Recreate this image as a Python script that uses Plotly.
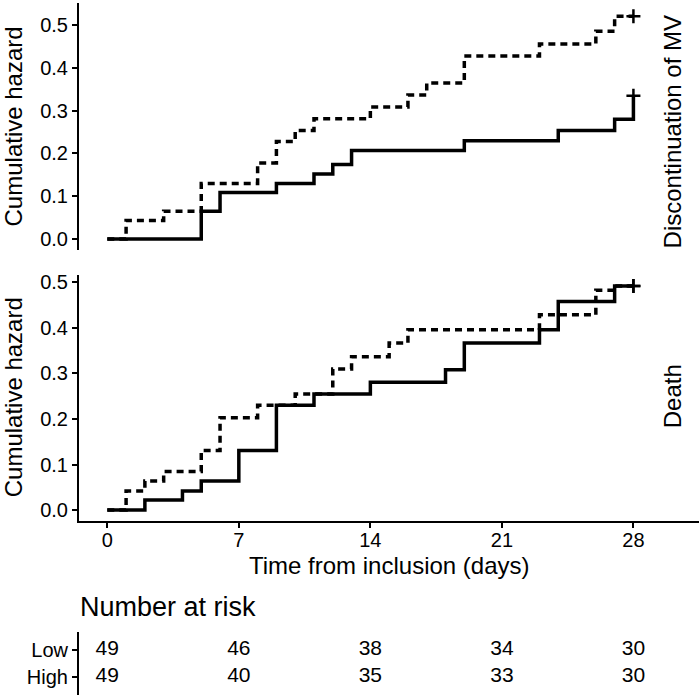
import plotly.graph_objects as go

W, H = 700, 695

# ---- data ----
mv_low_t = [0, 5, 6, 9, 11, 12, 13, 19, 24, 27, 28]
mv_low_v = [0, 0.065, 0.109, 0.130, 0.152, 0.174, 0.207, 0.230, 0.254, 0.280, 0.335]
mv_high_t = [0, 1, 3, 5, 8, 9, 10, 11, 14, 16, 17, 19, 23, 26, 27, 28]
mv_high_v = [0, 0.043, 0.065, 0.130, 0.178, 0.228, 0.254, 0.281, 0.309, 0.337, 0.365, 0.428, 0.456, 0.486, 0.521, 0.521]

death_low_t = [0, 2, 4, 5, 7, 9, 11, 14, 18, 19, 23, 24, 27, 28]
death_low_v = [0, 0.022, 0.042, 0.064, 0.131, 0.230, 0.255, 0.281, 0.308, 0.367, 0.396, 0.458, 0.492, 0.492]
death_high_t = [0, 1, 2, 3, 5, 6, 8, 10, 12, 13, 15, 16, 23, 26, 27, 28]
death_high_v = [0, 0.042, 0.064, 0.085, 0.131, 0.203, 0.230, 0.255, 0.310, 0.337, 0.367, 0.396, 0.429, 0.483, 0.492, 0.492]

risk_times = [0, 7, 14, 21, 28]
risk_low = [49, 46, 38, 34, 30]
risk_high = [49, 40, 35, 33, 30]
groups = ["Low", "High"]
x_ticks = [0, 7, 14, 21, 28]
y_ticks = [0, 0.1, 0.2, 0.3, 0.4, 0.5]

FONT = "Liberation Sans, Arial, sans-serif"

def px_x(p):
    return p / W

def px_y(p):
    return 1 - p / H

fig = go.Figure()

def add_curve(t, v, dash, xa, ya):
    fig.add_trace(go.Scatter(x=t, y=v, mode="lines", line_shape="hv",
                             line=dict(color="black", width=3.5, dash=dash),
                             xaxis=xa, yaxis=ya, showlegend=False, hoverinfo="skip"))
    fig.add_trace(go.Scatter(x=[t[-1]], y=[v[-1]], mode="markers",
                             marker=dict(symbol="cross-thin", size=10,
                                         line=dict(color="black", width=2.5)),
                             xaxis=xa, yaxis=ya, showlegend=False, hoverinfo="skip"))

# top panel: discontinuation of MV
add_curve(mv_high_t, mv_high_v, "7px,5px", "x2", "y2")
add_curve(mv_low_t, mv_low_v, "solid", "x2", "y2")
# bottom panel: death
add_curve(death_high_t, death_high_v, "7px,5px", "x", "y")
add_curve(death_low_t, death_low_v, "solid", "x", "y")

# risk table
for yv, counts in ((1, risk_low), (0, risk_high)):
    fig.add_trace(go.Scatter(x=risk_times, y=[yv] * len(risk_times), mode="text",
                             text=[str(n) for n in counts],
                             textfont=dict(size=21, color="black", family=FONT),
                             xaxis="x3", yaxis="y3", showlegend=False, hoverinfo="skip"))

xdom = [px_x(79), px_x(699)]
xrng = [-1.506, 31.49]
axis_common = dict(showgrid=False, zeroline=False, showline=True, linecolor="black",
                   linewidth=2, ticks="outside", ticklen=5, tickwidth=2, tickcolor="black",
                   tickfont=dict(size=20, color="black", family=FONT))

fig.update_layout(
    width=W, height=H,
    margin=dict(l=0, r=0, t=0, b=0),
    paper_bgcolor="white", plot_bgcolor="white",
    font=dict(family=FONT, color="black"),
    xaxis=dict(domain=xdom, range=xrng, anchor="y", tickvals=x_ticks,
               ticklabelstandoff=-5, **axis_common),
    yaxis=dict(domain=[px_y(520), px_y(273)], range=[-0.0234, 0.5167], anchor="x",
               tickvals=y_ticks, tickformat=".1f", **axis_common),
    xaxis2=dict(domain=xdom, range=xrng, anchor="y2", visible=False),
    yaxis2=dict(domain=[px_y(248), 1], range=[-0.0256, 0.552], anchor="x2",
                tickvals=y_ticks, tickformat=".1f", **axis_common),
    xaxis3=dict(domain=xdom, range=xrng, anchor="y3", visible=False),
    yaxis3=dict(domain=[0, px_y(632)], range=[-0.667, 1.667], anchor="x3",
                tickvals=[1, 0], ticktext=groups, **axis_common),
)

def note(x, y, text, size, angle=0, xanchor="center"):
    fig.add_annotation(x=px_x(x), y=px_y(y), xref="paper", yref="paper", text=text,
                       textangle=angle, showarrow=False, xanchor=xanchor, yanchor="middle",
                       font=dict(size=size, color="black", family=FONT))

note(13, 124, "Cumulative hazard", 24, -90)
note(13, 396, "Cumulative hazard", 24, -90)
note(672, 130, "Discontinuation of MV", 24, -90)
note(672, 395, "Death", 24, -90)
note(389, 565, "Time from inclusion (days)", 24)
note(78, 607, "Number at risk", 27, xanchor="left")

fig.write_html("out.html", config={"displayModeBar": False},
               post_script="document.body.style.margin='0';document.body.style.overflow='hidden';")
